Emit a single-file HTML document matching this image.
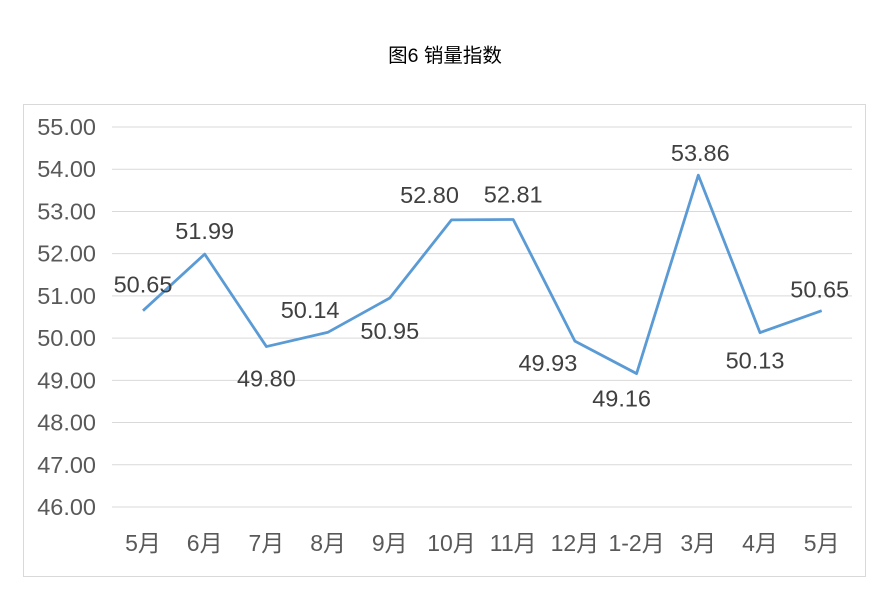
<!DOCTYPE html>
<html><head><meta charset="utf-8"><style>
body{margin:0;background:#fff;width:885px;height:595px;overflow:hidden;font-family:"Liberation Sans","Noto Sans CJK SC",sans-serif}
</style></head><body>
<svg width="885" height="595" id="c" font-family="Liberation Sans, Noto Sans CJK SC, sans-serif">
<text x="445" y="62" text-anchor="middle" font-size="19.5" fill="#000">图6 销量指数</text>
<rect x="23.5" y="104.5" width="842" height="472" fill="none" stroke="#d9d9d9"/>
</svg>
<script>
const categories=["5月","6月","7月","8月","9月","10月","11月","12月","1-2月","3月","4月","5月"];
const values=[50.65,51.99,49.80,50.14,50.95,52.80,52.81,49.93,49.16,53.86,50.13,50.65];
const yTicks=[46,47,48,49,50,51,52,53,54,55];
const labelDx=[0,0,0,-18,0,-22,0,-27,-15,2,-5,-2];
const labelDy=[-26,-23,32,-22,33,-25,-25,22,25,-22,28,-21];
const svg=document.getElementById('c');const NS='http://www.w3.org/2000/svg';
const y=v=>507-(v-46)*42.22;
const x=i=>143+i*61.7;
function mk(t,a,txt){const e=document.createElementNS(NS,t);for(const k in a)e.setAttribute(k,a[k]);if(txt!==undefined)e.textContent=txt;svg.appendChild(e);return e;}
yTicks.forEach(v=>{
 const g=mk('line',{x1:112,x2:852,y1:y(v),y2:y(v),stroke:'#d9d9d9','stroke-width':1});
 
 
 const t=mk('text',{x:96,y:y(v)+8,'text-anchor':'end','font-size':23.5,fill:'#595959'},v.toFixed(2));
 
 
});
categories.forEach((c,i)=>{
 const t=mk('text',{x:x(i),y:551,'text-anchor':'middle','font-size':23,fill:'#595959'},c);
 
 
});
const p=mk('polyline',{points:values.map((v,i)=>x(i)+','+y(v)).join(' '),fill:'none',stroke:'#5b9bd5','stroke-width':2.8,'stroke-linejoin':'round'});


values.forEach((v,i)=>{
 const t=mk('text',{x:x(i)+labelDx[i],y:y(v)+labelDy[i]+8,'text-anchor':'middle','font-size':23.5,fill:'#404040'},v.toFixed(2));
 
 
});
</script>
</body></html>
